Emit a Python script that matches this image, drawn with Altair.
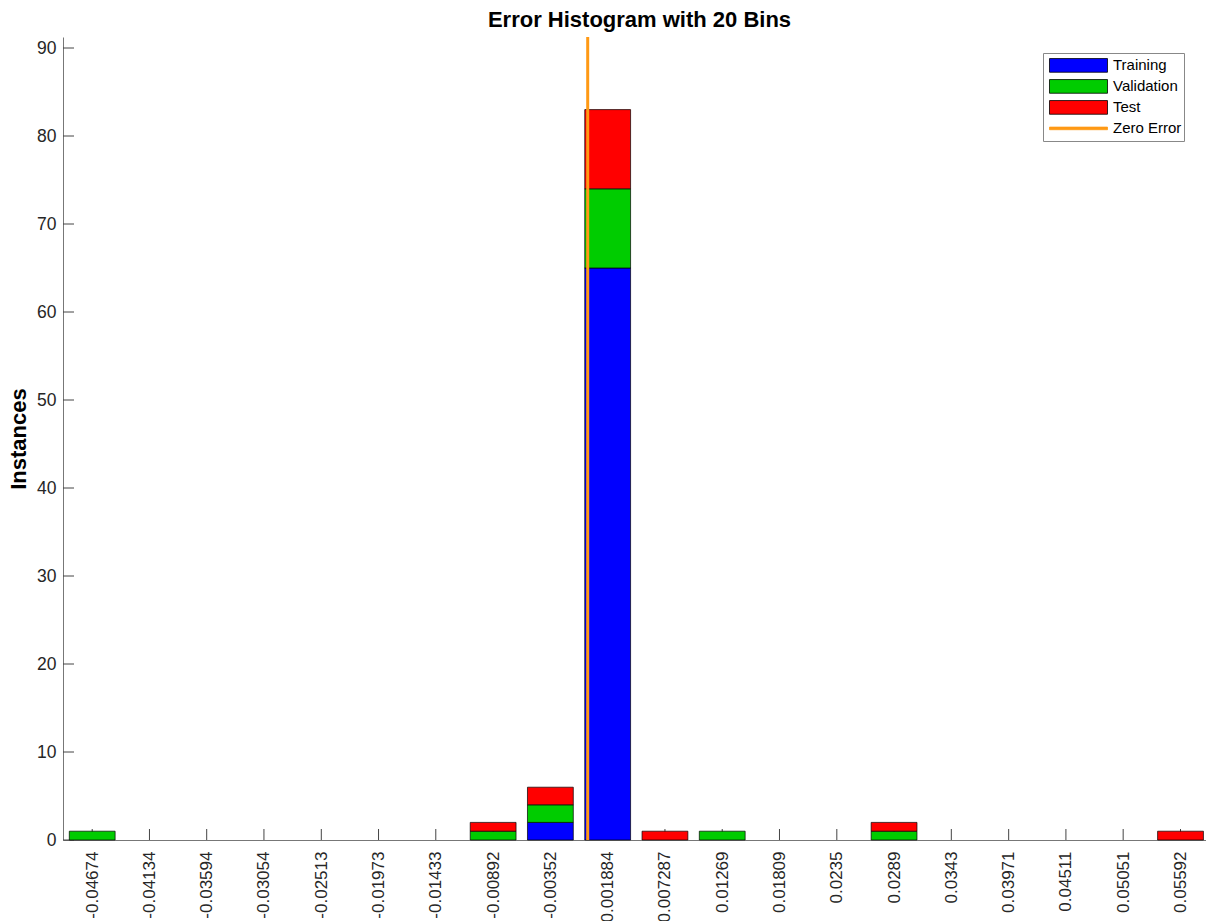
import altair as alt
import pandas as pd

# ---- data ----
bin_labels = ["-0.04674", "-0.04134", "-0.03594", "-0.03054", "-0.02513", "-0.01973",
              "-0.01433", "-0.00892", "-0.00352", "0.001884", "0.007287", "0.01269",
              "0.01809", "0.0235", "0.0289", "0.0343", "0.03971", "0.04511",
              "0.05051", "0.05592"]
training   = [0, 0, 0, 0, 0, 0, 0, 0, 2, 65, 0, 0, 0, 0, 0, 0, 0, 0, 0, 0]
validation = [1, 0, 0, 0, 0, 0, 0, 1, 2, 9, 0, 1, 0, 0, 1, 0, 0, 0, 0, 0]
test       = [0, 0, 0, 0, 0, 0, 0, 1, 2, 9, 1, 0, 0, 0, 1, 0, 0, 0, 0, 1]
series_names = ["Training", "Validation", "Test"]
legend_names = ["Training", "Validation", "Test", "Zero Error"]
y_ticks = [0, 10, 20, 30, 40, 50, 60, 70, 80, 90]
zero_error = [0.0]

# ---- styles ----
colors = ["#0000FF", "#00CC00", "#FF0000"]
orange = "#FF9914"
FONT = "Liberation Sans"
W, H = 1143, 803

centers = [float(s) for s in bin_labels]
step = (centers[-1] - centers[0]) / (len(centers) - 1)
xmin = centers[0] - 0.51 * step
xmax = xmin + 19.955 * step
half = 0.4 * step

rows = []
for i, c in enumerate(centers):
    for k, vals in enumerate([training, validation, test]):
        if vals[i] > 0:
            rows.append({"c": c, "set": series_names[k], "ord": k, "count": vals[i]})
bars_df = pd.DataFrame(rows)

xscale = alt.Scale(domain=[xmin, xmax], nice=False, zero=False)
yscale = alt.Scale(domain=[0, 91.25], nice=False)

x_axis = alt.Axis(values=centers, title=None, ticks=False, tickSize=0,
                  labelAngle=270, labelPadding=11, labelFontSize=17,
                  labelColor="#262626", labelFont=FONT,
                  labelOverlap=False, labelFlush=False, labelBound=False,
                  labelExpr="replace(format(datum.value, '.4~g'), '\u2212', '-')",
                  domainColor="#777777", domainWidth=1, grid=False)
y_axis = alt.Axis(values=y_ticks, title="Instances", ticks=False, tickSize=0,
                  labelPadding=7, labelFontSize=17.5, labelColor="#262626",
                  labelFont=FONT, labelOverlap=False,
                  titleFontSize=22, titleFontWeight="bold", titleColor="black",
                  titleFont=FONT, titleX=-38, titleY=H / 2,
                  titleBaseline="alphabetic", titleAlign="center",
                  domainColor="#777777", domainWidth=1, grid=False)

bars = alt.Chart(bars_df).transform_stack(
    stack="count", groupby=["c"], as_=["y0", "y1"],
    sort=[alt.SortField("ord", order="ascending")]
).transform_calculate(
    lo=f"datum.c - {half}", hi=f"datum.c + {half}"
).mark_bar(stroke="black", strokeWidth=0.7).encode(
    x=alt.X("lo:Q", scale=xscale, axis=x_axis),
    x2="hi:Q",
    y=alt.Y("y0:Q", scale=yscale, axis=y_axis),
    y2="y1:Q",
    color=alt.Color("set:N", scale=alt.Scale(domain=series_names, range=colors), legend=None),
)

zero_line = alt.Chart(pd.DataFrame({"x": zero_error})).mark_rule(
    color=orange, strokeWidth=3
).encode(x=alt.X("x:Q", scale=xscale, axis=x_axis), y=alt.value(0), y2=alt.value(H))

xticks = alt.Chart(pd.DataFrame({"c": centers})).mark_rule(
    color="#444444", strokeWidth=1
).encode(x=alt.X("c:Q", scale=xscale, axis=x_axis), y=alt.value(H - 11), y2=alt.value(H))

yticks = alt.Chart(pd.DataFrame({"v": y_ticks})).mark_rule(
    color="#444444", strokeWidth=1
).encode(y=alt.Y("v:Q", scale=yscale, axis=y_axis), x=alt.value(0), x2=alt.value(11))

bar_sym = "M-1,-0.236H1V0.236H-1Z"
line_sym = "M-1,-0.045H1V0.045H-1Z"
leg_common = dict(title=None, orient="none", legendX=980, legendY=16)
legend_layer = alt.Chart(pd.DataFrame({"name": legend_names, "k": [0, 1, 2, 3]})).transform_filter(
    "datum.k < 0"
).mark_point(filled=True, opacity=1, size=3364).encode(
    x=alt.value(0), y=alt.value(0),
    fill=alt.Fill("name:N", scale=alt.Scale(domain=legend_names, range=colors + [orange]),
                  legend=alt.Legend(**leg_common)),
    stroke=alt.Stroke("name:N", scale=alt.Scale(domain=legend_names,
                                                range=["black", "black", "black", orange]),
                      legend=alt.Legend(**leg_common)),
    shape=alt.Shape("name:N", scale=alt.Scale(domain=legend_names,
                                              range=[bar_sym, bar_sym, bar_sym, line_sym]),
                    legend=alt.Legend(**leg_common)),
)

chart = alt.layer(xticks, yticks, bars, zero_line, legend_layer).properties(
    width=W, height=H,
    title=alt.Title("Error Histogram with 20 Bins", fontSize=22, fontWeight="bold",
                    color="black", font=FONT, anchor="middle", baseline="alphabetic",
                    offset=10, dx=5, dy=23),
    padding={"left": 63, "top": 37, "right": 0, "bottom": 81},
    autosize=alt.AutoSizeParams(type="none"),
).configure(font=FONT).configure_view(stroke=None).configure_legend(
    symbolSize=3364, clipHeight=20.8, rowPadding=0, padding=2, symbolOffset=4,
    labelOffset=5, labelFontSize=15, labelColor="black", labelFont=FONT,
    symbolStrokeWidth=0.8, fillColor="white", strokeColor="#888888",
    cornerRadius=0,
)

chart.save("out.html", embed_options={"renderer": "svg", "actions": False})
